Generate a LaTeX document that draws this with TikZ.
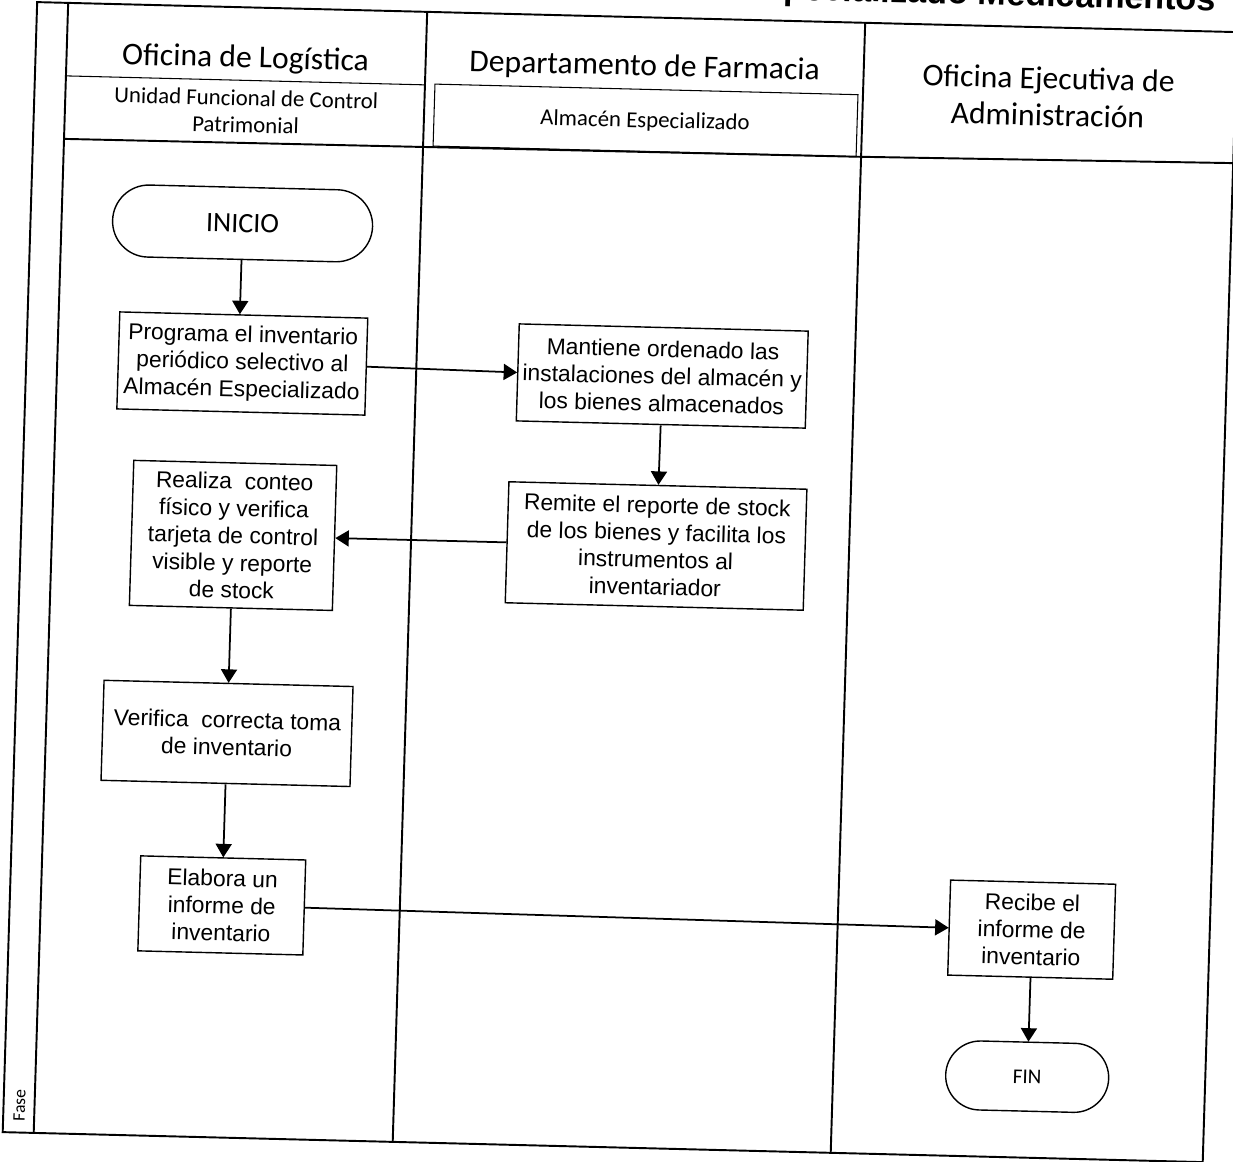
\documentclass[tikz,border=0pt]{standalone}
\usepackage{fontspec}
\setmainfont{Liberation Sans}
\newfontfamily\calib{Carlito}
\usetikzlibrary{arrows.meta}
\begin{document}
\begin{tikzpicture}[x=0.02cm,y=-0.02cm,
  lane/.style={line width=1.1pt},
  hline/.style={line width=0.6pt},
  proc/.style={draw, line width=0.8pt, align=center, inner sep=1pt,
    font=\fontsize{13}{15.5}\selectfont, transform shape},
  term/.style={draw, line width=0.8pt, align=center, inner sep=1pt, transform shape},
  flow/.style={line width=1pt, -{Triangle[length=0.27cm,width=0.32cm]}},
  hdr/.style={font=\calib\fontsize{18}{21}\selectfont, align=center, transform shape},
  subhdr/.style={font=\calib\fontsize{13}{15.3}\selectfont, align=center, transform shape}]
\useasboundingbox (0,0) rectangle (1233,1161);
\fill[white] (0,0) rectangle (1233,1161);
% slight skew of the scanned page
\begin{scope}[cm={1,-0.025,0.0305,1,(0.3538cm,0.308cm)}]
  % title (clipped at page top)
  \node[font=\bfseries\fontsize{19.5}{22}\selectfont, anchor=base, transform shape] (title) at (982,-4) {pecializado Medicamentos};
  % frame and lanes
  \draw[lane] (20,17) rectangle (1220,1147);
  \draw[lane] (51,17) -- (51,1147);
  \draw[lane] (410,17) -- (410,1147);
  \draw[lane] (848,17) -- (848,1147);
  \draw[lane] (51,153) -- (848,151) -- (1220,148);
  \draw[hline] (51,90) -- (410,90);
  \draw[hline] (420,89) rectangle (843,151);
  % headers
  \node[hdr] (h1) at (230,69) {Oficina de Logística};
  \node[subhdr] (s1) at (232,121) {Unidad Funcional de Control\\Patrimonial};
  \node[hdr] (h2) at (629,67) {Departamento de Farmacia};
  \node[subhdr] (s2) at (631,121) {Almacén Especializado};
  \node[hdr] (h3) at (1033,86) {Oficina Ejecutiva de\\Administración};
  \node[font=\calib\fontsize{10}{12}\selectfont, rotate=90, transform shape] (fase) at (36,1120) {Fase};
  % nodes
  \node[term, minimum width=5.2cm, minimum height=1.44cm, rounded corners=0.72cm,
        font=\calib\fontsize{16}{19}\selectfont] (inicio) at (232,233) {INICIO};
  \node[proc, minimum width=4.96cm, minimum height=1.94cm] (prog) at (236,373)
    {Programa el inventario\\periódico selectivo al\\Almacén Especializado};
  \node[proc, minimum width=5.78cm, minimum height=1.94cm] (mant) at (656,375)
    {Mantiene ordenado las\\instalaciones del almacén y\\los bienes almacenados};
  \node[proc, minimum width=5.96cm, minimum height=2.42cm] (remi) at (655,545)
    {Remite el reporte de stock\\de los bienes y facilita los\\instrumentos al\\inventariador};
  \node[proc, minimum width=4.06cm, minimum height=2.9cm] (real) at (232,545)
    {Realiza~ conteo\\físico y verifica\\tarjeta de control\\visible y reporte\\de stock};
  \node[proc, minimum width=4.98cm, minimum height=2cm] (veri) at (232,743)
    {Verifica~ correcta toma\\de inventario};
  \node[proc, minimum width=3.3cm, minimum height=1.9cm] (elab) at (232,915)
    {Elabora un\\informe de\\inventario};
  \node[proc, minimum width=3.3cm, minimum height=1.9cm] (reci) at (1042,919)
    {Recibe el\\informe de\\inventario};
  \node[term, minimum width=3.26cm, minimum height=1.38cm, rounded corners=0.69cm,
        font=\calib\fontsize{12}{14}\selectfont] (fin) at (1042,1066) {FIN};
  % connectors
  \draw[flow] (inicio.south) -- (inicio.south |- prog.north);
  \draw[flow] (prog.east) -- (mant.west);
  \draw[flow] (mant) -- (remi);
  \draw[flow] (remi.west) -- (real.east);
  \draw[flow] (real) -- (veri);
  \draw[flow] (veri) -- (elab);
  \draw[flow] (elab.east) -- (reci.west);
  \draw[flow] (reci) -- (fin);
\end{scope}
\end{tikzpicture}
\end{document}
